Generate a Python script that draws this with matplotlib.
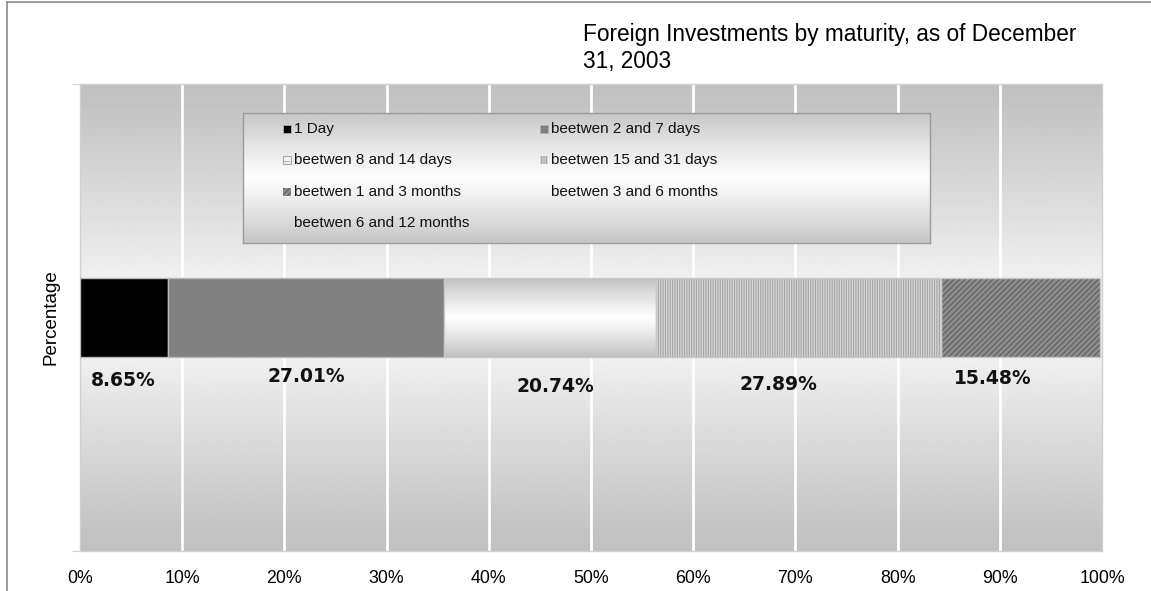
import numpy as np
import matplotlib
matplotlib.use("Agg")
import matplotlib.pyplot as plt
from matplotlib.patches import Rectangle

# ---- data ----
categories = ["1 Day", "beetwen 2 and 7 days", "beetwen 8 and 14 days",
              "beetwen 15 and 31 days", "beetwen 1 and 3 months",
              "beetwen 3 and 6 months", "beetwen 6 and 12 months"]
values = [8.65, 27.01, 20.74, 27.89, 15.48, 0.23, 0.0]
value_labels = ["8.65%", "27.01%", "20.74%", "27.89%", "15.48%", "", ""]
xticks = [0, 10, 20, 30, 40, 50, 60, 70, 80, 90, 100]
xtick_labels = [f"{t}%" for t in xticks]
title = "Foreign Investments by maturity, as of December\n31, 2003"
ylabel = "Percentage"

# ---- styles ----
styles = [
    dict(kind="solid", face="#000000"),
    dict(kind="solid", face="#808080"),
    dict(kind="gradient"),
    dict(kind="hatch", face="#d6d6d6", hcol="#a4a4a4", hatch="|||||||"),
    dict(kind="hatch", face="#8c8c8c", hcol="#5e5e5e", hatch="//////"),
    dict(kind="none"),
    dict(kind="none"),
]
label_dx = [-1, 0, 5, -20, -28, 0, 0]
label_dy = [-24, -20, -30, -28, -22, 0, 0]

SANS = ["Liberation Sans", "DejaVu Sans"]
plt.rcParams["font.family"] = SANS
plt.rcParams["hatch.linewidth"] = 0.8

W, H = 1151, 591
fig = plt.figure(figsize=(W / 100, H / 100), dpi=100)
fig.patch.set_facecolor("white")

# outer border (left & top)
fig.add_artist(Rectangle((7 / W, -0.1), 1.2, 1.1 - 1.5 / H, transform=fig.transFigure,
                         fill=False, edgecolor="#8a8a8a", linewidth=1.2))

ax = fig.add_axes([80 / W, 1 - 551 / H, 1022 / W, 467 / H])
ax.set_xlim(0, 100)
ax.set_ylim(-0.5, 0.5)

# background gradient
t = np.linspace(-1, 1, 400)
prof = 0.753 + (0.985 - 0.753) * (1 - np.abs(t)) ** 1.1
ax.imshow(prof[:, None], cmap="gray", vmin=0, vmax=1, extent=(0, 100, -0.5, 0.5),
          aspect="auto", zorder=0, interpolation="bilinear")

for x in xticks[1:-1]:
    ax.axvline(x, color="white", linewidth=2.0, zorder=1)

bar_h = 0.169
left = 0.0
centers = []
for v, st in zip(values, styles):
    centers.append(left + v / 2)
    if st["kind"] == "solid":
        ax.barh(0, v, left=left, height=bar_h, color=st["face"], edgecolor="#b8b8b8",
                linewidth=1.0, zorder=3)
    elif st["kind"] == "gradient":
        tt = np.linspace(-1, 1, 200)
        gp = 0.74 + 0.26 * (1 - np.abs(tt)) ** 0.8
        ax.imshow(gp[:, None], cmap="gray", vmin=0, vmax=1,
                  extent=(left, left + v, -bar_h / 2, bar_h / 2), aspect="auto",
                  zorder=3, interpolation="bilinear")
        ax.barh(0, v, left=left, height=bar_h, fill=False, edgecolor="#c8c8c8",
                linewidth=1.0, zorder=4)
    elif st["kind"] == "hatch":
        ax.barh(0, v, left=left, height=bar_h, color=st["face"], edgecolor=st["hcol"],
                hatch=st["hatch"], linewidth=0, zorder=3)
        ax.barh(0, v, left=left, height=bar_h, fill=False, edgecolor="#c8c8c8",
                linewidth=1.0, zorder=4)
    left += v
ax.set_xlim(0, 100)
ax.set_ylim(-0.5, 0.5)

for c, lab, dx, dy in zip(centers, value_labels, label_dx, label_dy):
    if lab:
        ax.annotate(lab, (c, -bar_h / 2), xytext=(dx, dy), textcoords="offset pixels",
                    ha="center", va="center", fontsize=13.5, fontweight="bold",
                    family="DejaVu Sans", color="#111111", zorder=5)

for s in ax.spines.values():
    s.set_color("#d0d0d0")
    s.set_linewidth(1.0)
ax.set_xticks(xticks)
ax.set_xticklabels(xtick_labels, fontsize=12.8)
ax.tick_params(axis="x", length=0, pad=14)
ax.set_yticks([-0.5, 0.5])
ax.set_yticklabels([])
ax.tick_params(axis="y", length=6, color="#d0d0d0")

fig.text(51 / W, 1 - 317 / H, ylabel, rotation=90, ha="center", va="center",
         fontsize=13.5)
fig.text(583 / W, 1 - 23 / H, title, ha="left", va="top", fontsize=16.3,
         linespacing=1.2)

# legend (manual, two columns row-major)
lx0, ly0, lx1, ly1 = 243, 113, 930, 243
lax = fig.add_axes([lx0 / W, 1 - ly1 / H, (lx1 - lx0) / W, (ly1 - ly0) / H])
lax.set_xlim(0, 1)
lax.set_ylim(0, 1)
tl = np.linspace(-1, 1, 200)
lprof = 0.77 + (1.0 - 0.77) * (1 - np.abs(tl)) ** 0.9
lax.imshow(lprof[:, None], cmap="gray", vmin=0, vmax=1, extent=(0, 1, 0, 1),
           aspect="auto", zorder=0, interpolation="bilinear")
lax.set_xticks([])
lax.set_yticks([])
for s in lax.spines.values():
    s.set_color("#9a9a9a")
    s.set_linewidth(1.0)
lax.set_xlim(0, 1)
lax.set_ylim(0, 1)

row_y = [129, 160, 192, 223]
col_tx = [294, 551]
msz = 8
for i, (name, st) in enumerate(zip(categories, styles)):
    r, c = divmod(i, 2)
    yc = (ly1 - row_y[r]) / (ly1 - ly0)
    tx = (col_tx[c] - lx0) / (lx1 - lx0)
    mw = msz / (lx1 - lx0)
    mh = msz / (ly1 - ly0)
    mx = tx - 0.005 - mw
    if st["kind"] == "solid":
        lax.add_patch(Rectangle((mx, yc - mh / 2), mw, mh, facecolor=st["face"],
                                edgecolor="#b0b0b0", linewidth=0.6, zorder=2))
    elif st["kind"] == "gradient":
        lax.add_patch(Rectangle((mx, yc - mh / 2), mw, mh, facecolor="#f4f4f4",
                                edgecolor="#a8a8a8", linewidth=0.8, zorder=2))
        lax.plot([mx + mw * 0.2, mx + mw * 0.8], [yc - mh * 0.15] * 2, color="#b0b0b0",
                 linewidth=0.8, zorder=3)
    elif st["kind"] == "hatch":
        lax.add_patch(Rectangle((mx, yc - mh / 2), mw, mh, facecolor=st["face"],
                                edgecolor=st["hcol"], hatch=st["hatch"], linewidth=0,
                                zorder=2))
    lax.text(tx, yc, name, ha="left", va="center", fontsize=11.0, color="#111111",
             zorder=3)

fig.savefig("out.png", dpi=100)
